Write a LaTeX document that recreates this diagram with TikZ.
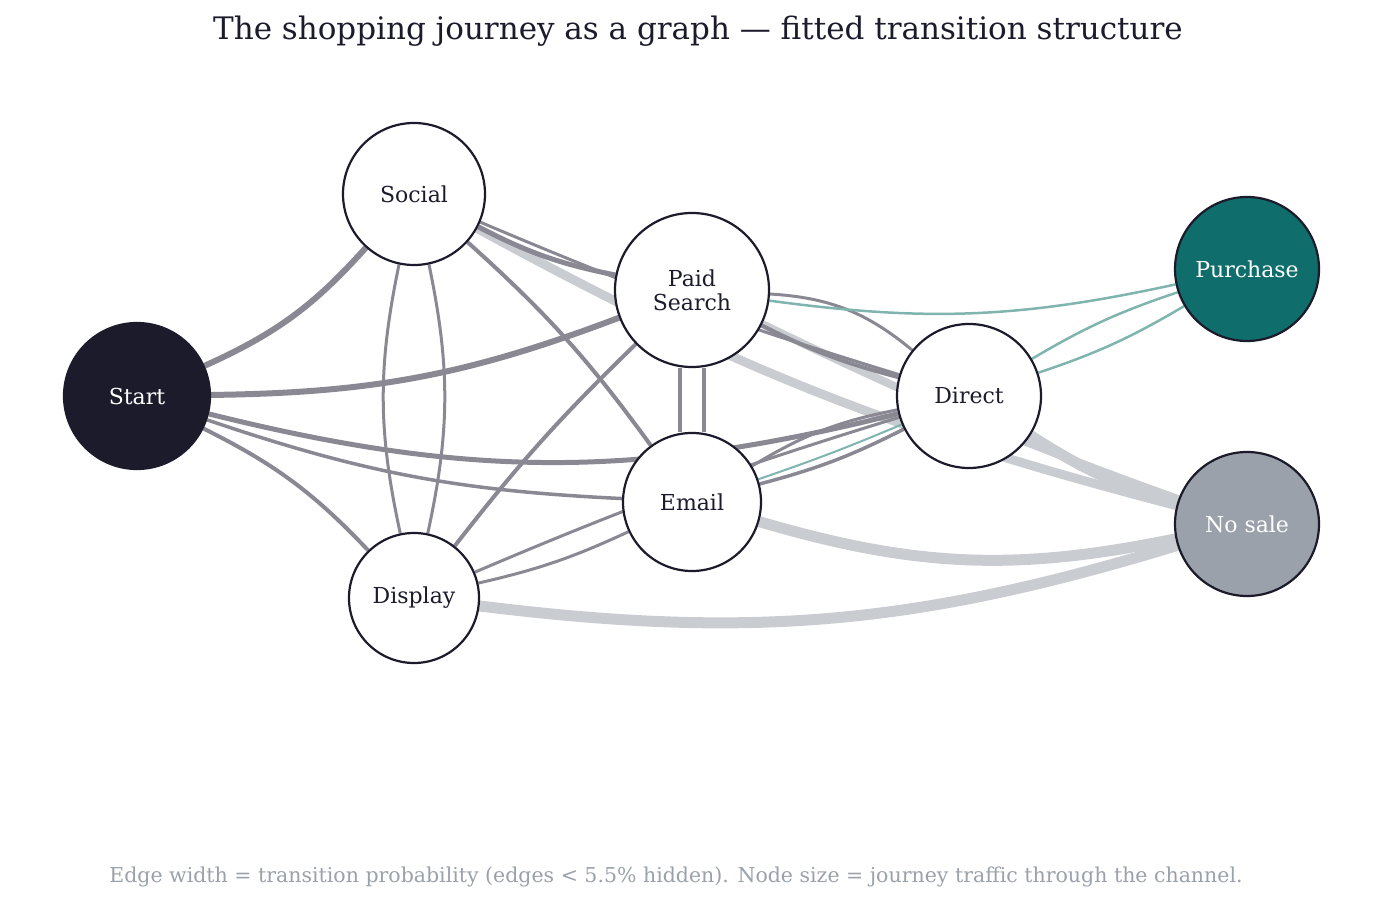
\documentclass[tikz,border=0pt]{standalone}
\usepackage{fontspec}
\setmainfont{DejaVu Serif}
\usetikzlibrary{backgrounds}
\definecolor{ink}{HTML}{1B1B2C}
\definecolor{teal}{HTML}{0F6E6B}
\definecolor{nsale}{HTML}{9AA1AA}
\definecolor{ed}{HTML}{8A8893}
\definecolor{lt}{HTML}{C9CCD1}
\definecolor{tl}{HTML}{7FB4AF}
\begin{document}
\begin{tikzpicture}[x=1pt,y=1pt,
  ch/.style={circle,draw=ink,line width=2.2pt,fill=white,text=ink,inner sep=0pt,font=\fontsize{22}{24}\selectfont,align=center},
  e/.style={draw=ed,line width=#1},
  l/.style={draw=lt,line width=#1},
  t/.style={draw=tl,line width=#1}]
\useasboundingbox (0,0) rectangle (1396,903);
\node[font=\fontsize{31}{34}\selectfont,text=ink] (title) at (698,872) {The shopping journey as a graph — fitted transition structure};
\node[font=\fontsize{20.5}{22}\selectfont,text=nsale] (foot) at (676,26) {Edge width = transition probability (edges < 5.5\% hidden). Node size = journey traffic through the channel.};
\node[ch,fill=ink,text=white,minimum size=146pt] (start) at (137,507) {Start};
\node[ch,minimum size=142pt] (social) at (414,709) {Social};
\node[ch,minimum size=154pt] (paid) at (692,613) {Paid\\Search};
\node[ch,minimum size=144pt] (direct) at (969,507) {Direct};
\node[ch,minimum size=138pt] (email) at (692,401) {Email};
\node[ch,minimum size=130pt] (display) at (414,305) {Display};
\node[ch,fill=teal,text=white,minimum size=144pt] (purchase) at (1247,634) {Purchase};
\node[ch,fill=nsale,text=white,minimum size=144pt] (nosale) at (1247,379) {No sale};
\begin{scope}[on background layer]
\draw[l=9pt] (social) to[bend right=7] (nosale);
\draw[l=8pt] (paid) to[bend right=3] (nosale);
\draw[l=11pt] (direct) to[bend right=8] (nosale);
\draw[l=11pt] (email) to[bend right=14] (nosale);
\draw[l=11pt] (display) to[bend right=12] (nosale);
\draw[e=6pt] (start) to[bend right=12] (social);
\draw[e=6pt] (start) to[bend right=10] (paid);
\draw[e=5pt] (start) to[bend right=14] (direct);
\draw[e=3.5pt] (start) to[bend right=8] (email);
\draw[e=4pt] (start) to[bend left=10] (display);
\draw[e=3pt] (social) to[bend right=12] (display);
\draw[e=3pt] (display) to[bend right=12] (social);
\draw[e=5pt] (social) to[bend right=8] (paid);
\draw[e=4pt] (social) to[bend left=6] (email);
\draw[e=3pt] (social) to[bend right=3] (direct);
\draw[e=4pt] ([xshift=-12pt]paid.south) -- ([xshift=-12pt]email.north);
\draw[e=4pt] ([xshift=12pt]paid.south) -- ([xshift=12pt]email.north);
\draw[e=4pt] (paid) to[bend right=4] (display);
\draw[e=3pt] (paid) to[bend left=18] (direct);
\draw[e=4pt] (paid) to[bend right=6] (direct);
\draw[t=2.5pt] (paid) to[bend right=10] (purchase);
\draw[e=3pt] (email) to[bend left=10] (direct);
\draw[e=3.5pt] (email) to[bend right=6] (direct);
\draw[t=2.5pt] (direct) to[bend right=6] (purchase);
\draw[t=2.5pt] (purchase) to[bend right=6] (direct);
\draw[t=2pt] (email) to[bend right=2] (direct);
\draw[e=3pt] (display) to[bend right=6] (email);
\draw[e=3pt] (display) to[bend left=3] (direct);
\end{scope}
\end{tikzpicture}
\end{document}
